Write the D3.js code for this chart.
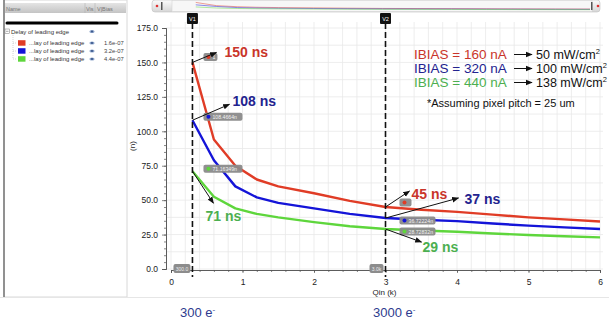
<!DOCTYPE html>
<html>
<head>
<meta charset="utf-8">
<script src="https://cdn.jsdelivr.net/npm/d3@7"></script>
<style>
  body { margin: 0; background: #fff; }
  svg { display: block; font-family: "Liberation Sans", Arial, sans-serif; }
</style>
</head>
<body>
<svg id="chart" width="609" height="323"></svg>
<script>
// --- data ---
var qin      = [0.3, 0.6, 0.9, 1.2, 1.5, 2, 2.5, 3, 3.5, 4, 4.5, 5, 5.5, 6];   // k electrons
var delay160 = [150, 94, 75, 65, 60, 55, 49.5, 45, 43, 41.5, 39.5, 37.5, 36, 34.5];
var delay320 = [108, 79, 60, 52, 48, 44, 40, 37, 35.8, 34.8, 33, 31.5, 30.2, 29];
var delay440 = [71, 52.5, 44, 40, 37.5, 34, 31, 29, 28, 27, 25.8, 24.7, 23.8, 23];

var seriesNames = ["...lay of leading edge", "...lay of leading edge", "...lay of leading edge"];
var ibiasValues = ["1.6e-07", "3.2e-07", "4.4e-07"];
var ibiasText   = ["IBIAS = 160 nA", "IBIAS = 320 nA", "IBIAS = 440 nA"];
var powerText   = ["50 mW/cm", "100 mW/cm", "138 mW/cm"];
var markerQ     = [0.3, 3];
var markerNames = ["V1", "V2"];
var markerTips  = ["300.0", "3.0k"];
var v1Labels    = ["150 ns", "108 ns", "71 ns"];
var v2Labels    = ["45 ns", "37 ns", "29 ns"];
var v1Tips      = ["1", "108.4664n", "71.16349n"];
var v2Tips      = ["", "36.72224n", "28.72832n"];
var yTicks      = [0, 25, 50, 75, 100, 125, 150, 175];
var xTicks      = [0, 1, 2, 3, 4, 5, 6];
var bottomText  = ["300 e", "3000 e"];

var lineColors  = ["#e03c26", "#1414d8", "#5ed63c"];
var textColors  = ["#c9352a", "#23238f", "#4caf50"];

var svg = d3.select("#chart");

var x = d3.scaleLinear().domain([0, 6]).range([171, 600]);
var y = d3.scaleLinear().domain([0, 175]).range([269, 28]);
var plotLeft = 166, plotRight = 603, plotTop = 22, plotBottom = 270;

// --- left browser panel ---
var panel = svg.append("g");
panel.append("rect").attr("x", 4).attr("y", 0).attr("width", 123).attr("height", 297)
  .attr("fill", "#fff").attr("stroke", "#d8d8d8");
panel.append("line").attr("x1", 4).attr("x2", 4).attr("y1", 0).attr("y2", 297)
  .attr("stroke", "#555").attr("stroke-width", 1.2);
var hdrGrad = svg.append("defs").append("linearGradient").attr("id", "hdr")
  .attr("x1", 0).attr("x2", 0).attr("y1", 0).attr("y2", 1);
hdrGrad.append("stop").attr("offset", 0).attr("stop-color", "#e4e4e4");
hdrGrad.append("stop").attr("offset", 1).attr("stop-color", "#c4c4c4");
panel.append("rect").attr("x", 5).attr("y", 3).attr("width", 121).attr("height", 10).attr("fill", "url(#hdr)");
panel.append("text").attr("x", 6).attr("y", 11).attr("font-size", 5.5).attr("fill", "#777").text("Name");
panel.append("text").attr("x", 86).attr("y", 11).attr("font-size", 5.5).attr("fill", "#777").text("Vis");
panel.append("text").attr("x", 97).attr("y", 11).attr("font-size", 5.5).attr("fill", "#777").text("V|Bias");
[85, 95].forEach(function (cx) {
  panel.append("line").attr("x1", cx).attr("x2", cx).attr("y1", 3).attr("y2", 13).attr("stroke", "#aaa").attr("stroke-width", 0.5);
});
panel.append("line").attr("x1", 7).attr("x2", 117).attr("y1", 23).attr("y2", 23)
  .attr("stroke", "#000").attr("stroke-width", 3).attr("stroke-linecap", "round");

function eye(g, cx, cy) {
  g.append("ellipse").attr("cx", cx).attr("cy", cy).attr("rx", 2.6).attr("ry", 1.6).attr("fill", "#8aa2c8");
  g.append("circle").attr("cx", cx).attr("cy", cy).attr("r", 0.9).attr("fill", "#2c4a80");
}
panel.append("rect").attr("x", 5).attr("y", 29).attr("width", 4.5).attr("height", 4.5)
  .attr("fill", "none").attr("stroke", "#777").attr("stroke-width", 0.5);
panel.append("line").attr("x1", 6).attr("x2", 8.5).attr("y1", 31.3).attr("y2", 31.3).attr("stroke", "#555").attr("stroke-width", 0.5);
panel.append("text").attr("x", 11).attr("y", 33.5).attr("font-size", 6).attr("fill", "#333").text("Delay of leading edge");
eye(panel, 92, 31.5);
panel.append("line").attr("x1", 13).attr("x2", 13).attr("y1", 35).attr("y2", 59)
  .attr("stroke", "#aaa").attr("stroke-width", 0.5).attr("stroke-dasharray", "1,1");

var rows = panel.selectAll(".row").data(seriesNames).enter().append("g")
  .attr("transform", function (d, i) { return "translate(0," + (43 + i * 8) + ")"; });
rows.append("line").attr("x1", 13).attr("x2", 17).attr("y1", 0).attr("y2", 0)
  .attr("stroke", "#aaa").attr("stroke-width", 0.5).attr("stroke-dasharray", "1,1");
rows.append("rect").attr("x", 18).attr("y", -2.8).attr("width", 7.5).attr("height", 5.5)
  .attr("fill", function (d, i) { return lineColors[i]; });
rows.append("text").attr("x", 29).attr("y", 2).attr("font-size", 6).attr("fill", "#333").text(function (d) { return d; });
rows.each(function () { eye(d3.select(this), 92, 0); });
rows.append("text").attr("x", 104).attr("y", 2).attr("font-size", 5.8).attr("fill", "#444")
  .text(function (d, i) { return ibiasValues[i]; });

// --- separator line under panel / plot ---
svg.append("line").attr("x1", 0).attr("x2", 609).attr("y1", 297.5).attr("y2", 297.5)
  .attr("stroke", "#e6e6e6").attr("stroke-width", 1);

// --- top overview strip ---
var ovGrad = svg.select("defs").append("linearGradient").attr("id", "ov")
  .attr("x1", 0).attr("x2", 0).attr("y1", 0).attr("y2", 1);
ovGrad.append("stop").attr("offset", 0).attr("stop-color", "#fbfbfb");
ovGrad.append("stop").attr("offset", 1).attr("stop-color", "#d6d6d6");
svg.append("rect").attr("x", 152).attr("y", 0).attr("width", 448).attr("height", 12)
  .attr("rx", 3).attr("fill", "url(#ov)").attr("stroke", "#c0c0c0").attr("stroke-width", 0.6);
svg.append("rect").attr("x", 172).attr("y", 0.5).attr("width", 420).attr("height", 11)
  .attr("fill", "#f7f7f7").attr("stroke", "#cfcfcf").attr("stroke-width", 0.5);
var ox = d3.scaleLinear().domain([0, 6]).range([175, 590]);
var oy = d3.scaleLinear().domain([0, 175]).range([11, 1]);
[delay160, delay320, delay440].forEach(function (vals, i) {
  svg.append("path")
    .datum(qin.map(function (q, k) { return [q, vals[k]]; }))
    .attr("fill", "none").attr("stroke", lineColors[i]).attr("stroke-width", 0.6).attr("opacity", 0.8)
    .attr("d", d3.line().x(function (d) { return ox(d[0]); }).y(function (d) { return oy(d[1]); }));
});
svg.append("circle").attr("cx", 157).attr("cy", 6).attr("r", 1.3).attr("fill", "#e03030");
svg.append("rect").attr("x", 161).attr("y", 2).attr("width", 1.5).attr("height", 8).attr("fill", "#555");
svg.append("rect").attr("x", 591).attr("y", 2).attr("width", 1.5).attr("height", 8).attr("fill", "#555");
svg.append("circle").attr("cx", 598).attr("cy", 6).attr("r", 1.3).attr("fill", "#e03030");

// --- grid ---
var grid = svg.append("g");
d3.range(0, 6.01, 0.2).forEach(function (v) {
  grid.append("line").attr("x1", x(v)).attr("x2", x(v)).attr("y1", plotTop).attr("y2", plotBottom)
    .attr("stroke", "#e9e9e9").attr("stroke-width", 0.8);
});
d3.range(0, 176, 12.5).forEach(function (v) {
  grid.append("line").attr("x1", plotLeft).attr("x2", plotRight).attr("y1", y(v)).attr("y2", y(v))
    .attr("stroke", "#e9e9e9").attr("stroke-width", 0.8);
});

// --- axes ---
var yAxis = svg.append("g").attr("transform", "translate(" + plotLeft + ",0)")
  .call(d3.axisLeft(y).tickValues(yTicks).tickSize(4).tickFormat(d3.format(".1f")));
var yMinor = svg.append("g").attr("transform", "translate(" + plotLeft + ",0)")
  .call(d3.axisLeft(y).tickValues(d3.range(0, 176, 5)).tickSize(2).tickFormat(""));
var xAxis = svg.append("g").attr("transform", "translate(0," + plotBottom + ")")
  .call(d3.axisBottom(x).tickValues(xTicks).tickSize(3).tickPadding(6).tickFormat(d3.format("d")));
var xMinor = svg.append("g").attr("transform", "translate(0," + plotBottom + ")")
  .call(d3.axisBottom(x).tickValues(d3.range(0, 6.01, 0.2)).tickSize(2).tickFormat(""));
[yAxis, yMinor, xAxis, xMinor].forEach(function (a) {
  a.select(".domain").attr("stroke", "#555").attr("stroke-width", 0.8);
  a.selectAll("line").attr("stroke", "#555").attr("stroke-width", 0.7);
  a.selectAll("text").attr("font-size", 8.5).attr("fill", "#222")
    .attr("font-family", "Liberation Sans, Arial, sans-serif");
});
yAxis.selectAll("text").attr("dx", "-1");
svg.append("text").attr("x", (plotLeft + plotRight) / 2).attr("y", 295).attr("text-anchor", "middle")
  .attr("font-size", 8).attr("fill", "#222").text("Qin (k)");
svg.append("text").attr("transform", "translate(135," + ((plotTop + plotBottom) / 2) + ") rotate(-90)")
  .attr("text-anchor", "middle").attr("font-size", 8).attr("fill", "#222").text("(n)");

// --- curves ---
var line = d3.line().x(function (d) { return x(d[0]); }).y(function (d) { return y(d[1]); });
[delay160, delay320, delay440].forEach(function (vals, i) {
  svg.append("path")
    .datum(qin.map(function (q, k) { return [q, vals[k]]; }))
    .attr("fill", "none").attr("stroke", lineColors[i]).attr("stroke-width", 2.4)
    .attr("stroke-linejoin", "round").attr("d", line);
});

// --- vertical markers ---
markerQ.forEach(function (q, i) {
  var mx = x(q);
  svg.append("line").attr("x1", mx).attr("x2", mx).attr("y1", 14).attr("y2", 277)
    .attr("stroke", "#111").attr("stroke-width", 1.6).attr("stroke-dasharray", "6,3");
  svg.append("rect").attr("x", mx - 5.5).attr("y", 13).attr("width", 11).attr("height", 11)
    .attr("rx", 1).attr("fill", "#111");
  svg.append("text").attr("x", mx).attr("y", 21).attr("text-anchor", "middle")
    .attr("font-size", 5.5).attr("fill", "#fff").text(markerNames[i]);
  var tw = i === 0 ? 17 : 14;
  svg.append("rect").attr("x", mx - tw - 2).attr("y", 264).attr("width", tw).attr("height", 9)
    .attr("rx", 2).attr("fill", "#8c8c8c");
  svg.append("text").attr("x", mx - 2 - tw / 2).attr("y", 270.5).attr("text-anchor", "middle")
    .attr("font-size", 5).attr("fill", "#eee").text(markerTips[i]);
});

// --- value tooltips at markers ---
var defs = svg.select("defs");
defs.append("marker").attr("id", "arr").attr("viewBox", "0 0 10 10").attr("refX", 9).attr("refY", 5)
  .attr("markerWidth", 7).attr("markerHeight", 7).attr("orient", "auto")
  .append("path").attr("d", "M0,1 L10,5 L0,9 z").attr("fill", "#111");

function tooltip(px, py, txt, color, w) {
  if (w > 0) {
    svg.append("rect").attr("x", px + 11).attr("y", py - 4.5).attr("width", w).attr("height", 8)
      .attr("rx", 2).attr("fill", "#8a8a8a").attr("opacity", 0.95);
    svg.append("text").attr("x", px + 20).attr("y", py + 1.8).attr("font-size", 5.2).attr("fill", "#f2f2f2").text(txt);
  }
  svg.append("circle").attr("cx", px + 16).attr("cy", py - 0.5).attr("r", 2).attr("fill", color);
}
var seriesAll = [delay160, delay320, delay440];
var v1i = qin.indexOf(markerQ[0]), v2i = qin.indexOf(markerQ[1]);
seriesAll.forEach(function (vals, i) {
  var tw = i === 0 ? 14 : 39;
  tooltip(x(markerQ[0]), y(vals[v1i]) - (i === 0 ? 5 : (i === 1 ? 3 : 2)), v1Tips[i], lineColors[i], tw);
});
seriesAll.forEach(function (vals, i) {
  var tw = i === 0 ? 12 : 36;
  tooltip(x(markerQ[1]) + 3, y(vals[v2i]) + (i === 0 ? -4 : 3), v2Tips[i], lineColors[i], tw);
});

// --- annotation arrows + labels ---
var v1Offsets = [[24, -10, 32, -5], [37, -16, 40, -14], [21, 32, 13, 50]];   // arrow dx,dy ; label dx,dy
var v2Offsets = [[24, -16, 26, -8], [73, -20, 79, -14], [36, 13, 37, 23]];
function annotate(px, py, off, label, color) {
  svg.append("line").attr("x1", px).attr("y1", py).attr("x2", px + off[0]).attr("y2", py + off[1])
    .attr("stroke", "#111").attr("stroke-width", 1).attr("marker-end", "url(#arr)");
  svg.append("text").attr("x", px + off[2]).attr("y", py + off[3]).attr("font-size", 14)
    .attr("font-weight", "bold").attr("fill", color).text(label);
}
seriesAll.forEach(function (vals, i) {
  annotate(x(markerQ[0]), y(vals[v1i]), v1Offsets[i], v1Labels[i], textColors[i]);
  annotate(x(markerQ[1]), y(vals[v2i]), v2Offsets[i], v2Labels[i], textColors[i]);
});

// --- IBIAS / power block ---
var ib = svg.append("g");
ibiasText.forEach(function (t, i) {
  var by = 59 + i * 14;
  ib.append("text").attr("x", 414).attr("y", by).attr("font-size", 13.5).attr("fill", textColors[i]).text(t);
  ib.append("line").attr("x1", 514).attr("x2", 532).attr("y1", by - 4.5).attr("y2", by - 4.5)
    .attr("stroke", "#111").attr("stroke-width", 1).attr("marker-end", "url(#arr)");
  var pt = ib.append("text").attr("x", 536).attr("y", by).attr("font-size", 12.5).attr("fill", "#111");
  pt.append("tspan").text(powerText[i]);
  pt.append("tspan").attr("dy", -5).attr("font-size", 7.5).text("2");
});
ib.append("text").attr("x", 427).attr("y", 107).attr("font-size", 11).attr("fill", "#111")
  .text("*Assuming pixel pitch = 25 um");

// --- bottom charge labels ---
bottomText.forEach(function (t, i) {
  var bt = svg.append("text").attr("x", i === 0 ? 180 : 373).attr("y", 317)
    .attr("font-size", 13).attr("fill", "#2e3b8e");
  bt.append("tspan").text(t);
  bt.append("tspan").attr("dy", -5).attr("font-size", 8).text("-");
});
</script>
</body>
</html>
